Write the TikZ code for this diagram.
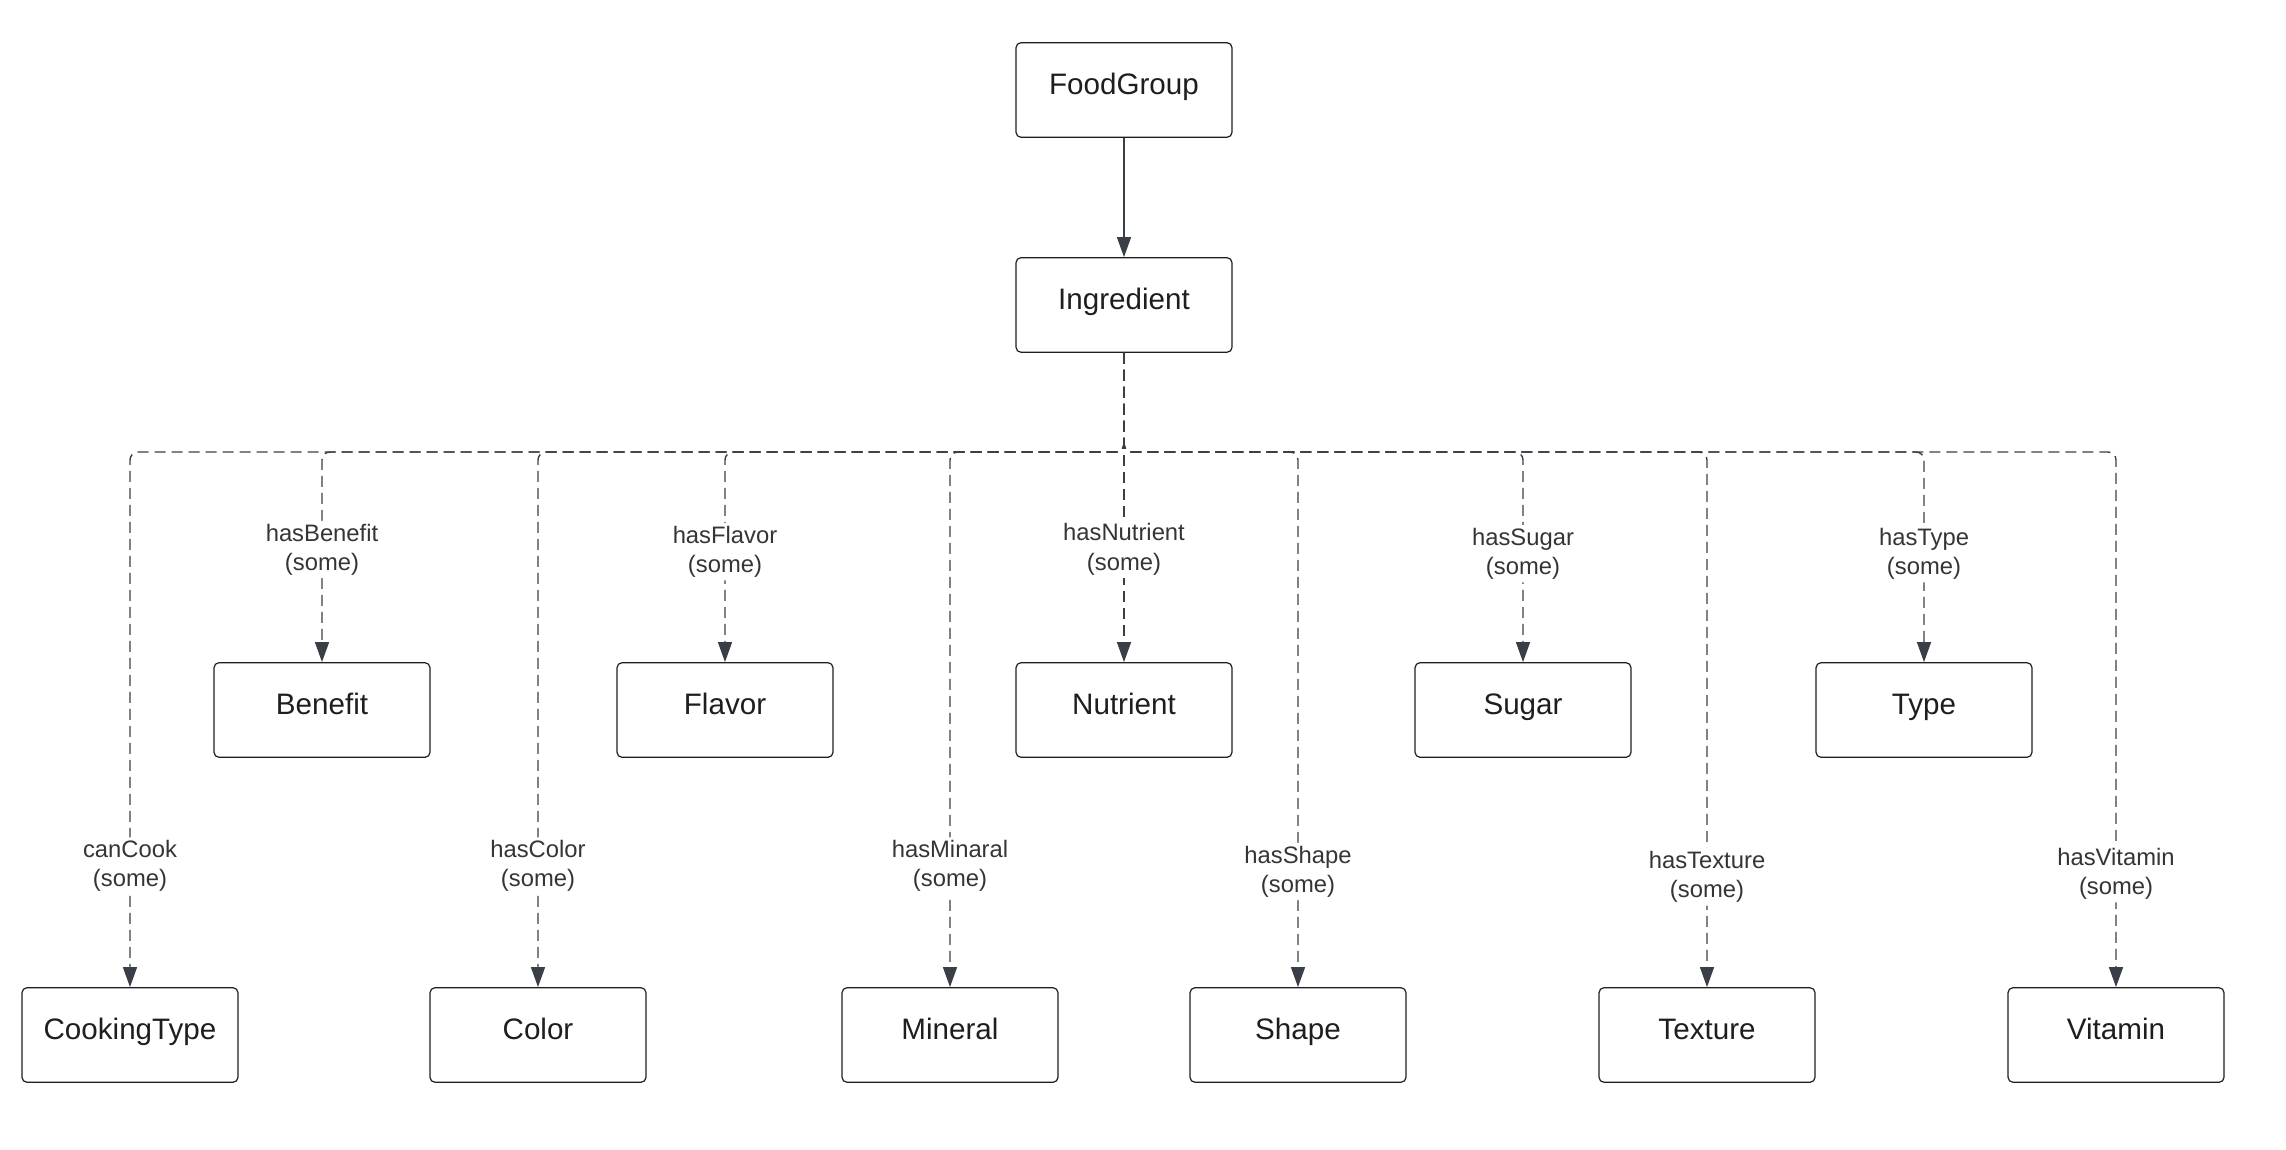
\documentclass[tikz,border=0pt]{standalone}
\usepackage{fontspec}
\setmainfont{Liberation Sans}
\usepackage{tikz}
\usetikzlibrary{arrows.meta,positioning,calc}
\definecolor{grisLinea}{RGB}{58,63,71}
\definecolor{grisTexto}{RGB}{30,30,30}
\tikzstyle{clase}=[draw=grisTexto, rounded corners=2.5pt, line width=0.6pt,
                   minimum width=108pt, minimum height=47.3pt, inner sep=0pt,
                   text height=1.55ex, text depth=0.7ex,
                   font=\fontsize{14.8}{18}\selectfont, text=grisTexto]
\tikzstyle{edge}=[draw=grisLinea, line width=0.7pt,
                  -{Triangle[length=10pt,width=7pt]}]
\tikzstyle{rel}=[edge, dash pattern=on 5.5pt off 3pt, rounded corners=4pt]
\tikzstyle{etiqueta}=[fill=white, inner sep=1.5pt, align=center,
                      font=\fontsize{11.9}{14.6}\selectfont, text=grisTexto!90]
\begin{document}
\begin{tikzpicture}[x=0.5pt,y=-0.5pt]
    \useasboundingbox (0,0) rectangle (2286,1150);

    \node[clase] (FoodGroup) at (1124,90) {FoodGroup};
    \node[clase] (Ingredient) at (1124,305) {Ingredient};
    \coordinate (bus) at (0,452);

    % first row of classes
    \foreach \n/\x in {Benefit/322,Flavor/725,Nutrient/1124,Sugar/1523,Type/1924}
        \node[clase] (\n) at (\x,710) {\n};

    % second row of classes
    \foreach \n/\x in {CookingType/130,Color/538,Mineral/950,Shape/1298,
                       Texture/1707,Vitamin/2116}
        \node[clase] (\n) at (\x,1035) {\n};

    \draw[edge] (FoodGroup) -- (Ingredient);

    \draw[rel] (Ingredient) -- node[etiqueta,pos=0.635]{hasNutrient\\(some)} (Nutrient);

    \foreach \n/\r/\p in
        {Benefit/hasBenefit/0.732,Flavor/hasFlavor/0.737,Sugar/hasSugar/0.742,
        Type/hasType/0.742,CookingType/canCook/0.887,Color/hasColor/0.887,
        Mineral/hasMinaral/0.887,Shape/hasShape/0.892,Texture/hasTexture/0.897,
        Vitamin/hasVitamin/0.894}
        \draw[rel] (Ingredient.south) -- (Ingredient.south |- bus)
            -| node[etiqueta,pos=\p]{\r\\(some)} (\n.north);

\end{tikzpicture}
\end{document}
